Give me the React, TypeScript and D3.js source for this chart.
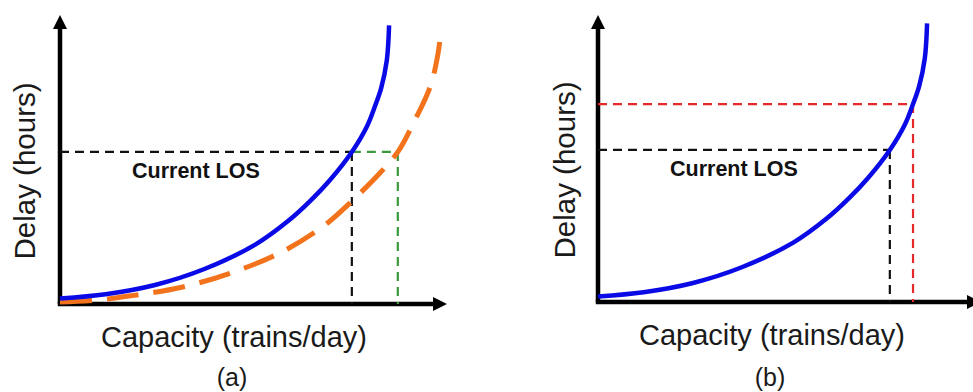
import React from 'react';
import * as d3 from 'd3';

// delay vs capacity curves, capacity and delay both in 0..100 "relative" units
const currentCap = [0, 12, 25, 38, 51.5, 60, 66, 71, 76.8, 80.8, 82.9, 84.5, 86, 86.6];
const currentDelay = [2, 3.5, 6.8, 12.5, 21.3, 29.6, 37, 44.2, 54.3, 63.5, 70.7, 77, 87, 99.5];

const improvedCap = [0, 10, 19, 32, 45, 58.4, 69, 74.5, 84.2, 88.9, 93, 97.4, 99.5, 100.3];
const improvedDelay = [0.7, 1.4, 3.0, 6.0, 11.1, 18.6, 27.5, 33.8, 46.8, 54.3, 64.6, 77.5, 89.6, 98.6];

// level of service markers
const losDelay = 54.3;
const losCap = 76.8;
const losCapImproved = 88.9;
const newDelay = 70.7;
const newCap = 82.9;

const xLabel = 'Capacity (trains/day)';
const yLabel = 'Delay (hours)';
const losLabel = 'Current LOS';
const panelLabels = ['(a)', '(b)'];

const W = 973;
const H = 392;
const FONT = 'Arial, "Liberation Sans", Helvetica, sans-serif';

const BLUE = '#0a0ae6';
const ORANGE = '#f2731c';
const GREEN = '#3c9a3c';
const RED = '#e52828';

type Pt = [number, number];

function zip(xs: number[], ys: number[]): Pt[] {
  return xs.map((x, i) => [x, ys[i]] as Pt);
}

function Axes({ x0, y0, xTip, yTip }: { x0: number; y0: number; xTip: number; yTip: number }) {
  const a = 14, w = 7;
  return (
    <g>
      <line x1={x0} y1={y0} x2={x0} y2={yTip + a - 1} stroke="#000" strokeWidth={4.5} />
      <line x1={x0 - 2.25} y1={y0} x2={xTip - a + 1} y2={y0} stroke="#000" strokeWidth={4.5} />
      <path d={`M${x0},${yTip} L${x0 - w},${yTip + a} L${x0 + w},${yTip + a} Z`} fill="#000" />
      <path d={`M${xTip},${y0} L${xTip - a},${y0 - w} L${xTip - a},${y0 + w} Z`} fill="#000" />
    </g>
  );
}

function DropLines({ x, y, cap, delay, color, fromX }: any) {
  return (
    <g fill="none" stroke={color} strokeWidth={2.2} strokeDasharray="9 6">
      <line x1={fromX} y1={y(delay)} x2={x(cap)} y2={y(delay)} />
      <line x1={x(cap)} y1={y(delay)} x2={x(cap)} y2={y(0)} />
    </g>
  );
}

function Labels({ cx, baseY, yLabelX, yLabelCy, panel }: any) {
  return (
    <g fontFamily={FONT} fill="#1a1a1a">
      <text x={cx} y={baseY} fontSize={29} textAnchor="middle">{xLabel}</text>
      <text transform={`translate(${yLabelX},${yLabelCy}) rotate(-90)`} fontSize={29.5} textAnchor="middle">{yLabel}</text>
      <text x={cx - 2} y={386} fontSize={25} textAnchor="middle">{panel}</text>
    </g>
  );
}

export default function App() {
  // panel (a)
  const xa = d3.scaleLinear().domain([0, 100]).range([60, 440]);
  const ya = d3.scaleLinear().domain([0, 100]).range([304, 24]);
  const lineA = d3.line<Pt>().curve(d3.curveCatmullRom.alpha(0.5)).x(d => xa(d[0])).y(d => ya(d[1]));
  const blueA = lineA(zip(currentCap, currentDelay)) || '';
  const orangeA = lineA(zip(improvedCap, improvedDelay)) || '';

  // panel (b)
  const xb = d3.scaleLinear().domain([0, 100]).range([598, 978]);
  const yb = d3.scaleLinear().domain([0, 100]).range([302, 22]);
  const lineB = d3.line<Pt>().curve(d3.curveCatmullRom.alpha(0.5)).x(d => xb(d[0])).y(d => yb(d[1]));
  const blueB = lineB(zip(currentCap, currentDelay)) || '';

  return (
    <svg width={W} height={H} style={{ position: 'absolute', left: 0, top: 0, background: '#fff' }}>
      <rect width={W} height={H} fill="#fff" />

      {/* (a) */}
      <Axes x0={xa(0)} y0={ya(0)} xTip={447} yTip={15} />
      <DropLines x={xa} y={ya} cap={losCap} delay={losDelay} color="#111" fromX={xa(0)} />
      <DropLines x={xa} y={ya} cap={losCapImproved} delay={losDelay} color={GREEN} fromX={xa(losCap)} />
      <path d={orangeA} fill="none" stroke={ORANGE} strokeWidth={5} strokeDasharray="32 15" />
      <path d={blueA} fill="none" stroke={BLUE} strokeWidth={4.5} />
      <text x={132} y={178} fontFamily={FONT} fontWeight="bold" fontSize={21.5} fill="#111">{losLabel}</text>
      <Labels cx={234} baseY={347} yLabelX={35} yLabelCy={171} panel={panelLabels[0]} />

      {/* (b) */}
      <Axes x0={xb(0)} y0={yb(0)} xTip={981} yTip={15} />
      <DropLines x={xb} y={yb} cap={newCap} delay={newDelay} color={RED} fromX={xb(0)} />
      <DropLines x={xb} y={yb} cap={losCap} delay={losDelay} color="#111" fromX={xb(0)} />
      <path d={blueB} fill="none" stroke={BLUE} strokeWidth={4.5} />
      <text x={670} y={176} fontFamily={FONT} fontWeight="bold" fontSize={21.5} fill="#111">{losLabel}</text>
      <Labels cx={772} baseY={345} yLabelX={575} yLabelCy={170} panel={panelLabels[1]} />
    </svg>
  );
}
